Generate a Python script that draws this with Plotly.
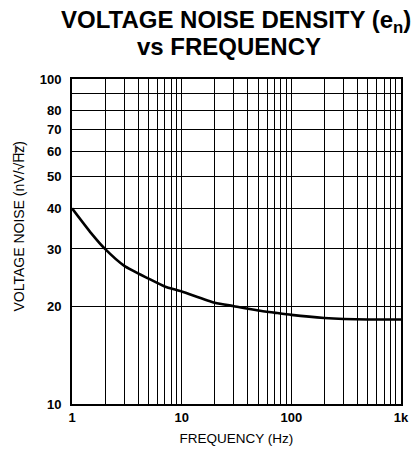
import plotly.graph_objects as go

# Data
freq_hz = [1, 1.5, 2, 3, 5, 7, 10, 20, 30, 50, 70, 100, 200, 500, 1000]
noise_nv = [40, 33.5, 30, 26.6, 24.3, 23.0, 22.2, 20.5, 20.0, 19.4, 19.1, 18.8, 18.4, 18.2, 18.2]

x_tick_vals = [1, 10, 100, 1000]
x_tick_text = ["1", "10", "100", "1k"]
x_minor_vals = [2, 3, 4, 5, 6, 7, 8, 9, 20, 30, 40, 50, 60, 70, 80, 90,
                200, 300, 400, 500, 600, 700, 800, 900]
y_tick_vals = [10, 20, 30, 40, 50, 60, 70, 80, 100]
y_tick_text = ["10", "20", "30", "40", "50", "60", "70", "80", "100"]
y_minor_vals = [90]

FONT = "Liberation Sans, Arial, sans-serif"
W, H = 412, 450
ML, MR, MT, MB = 72, 11, 79, 46
PLOT_H = H - MT - MB
PLOT_TOP = 1 + MT / PLOT_H  # top of figure in paper units

fig = go.Figure()
fig.add_trace(go.Scatter(
    x=freq_hz, y=noise_nv, mode="lines",
    line=dict(color="black", width=2.6, shape="spline", smoothing=0.6),
    showlegend=False, hoverinfo="skip",
))

fig.update_layout(
    width=W, height=H,
    margin=dict(l=ML, r=MR, t=MT, b=MB),
    paper_bgcolor="white", plot_bgcolor="white",
    font=dict(family=FONT, color="black"),
    xaxis=dict(
        type="log", range=[0, 3],
        tickvals=x_tick_vals, ticktext=x_tick_text,
        showgrid=True, gridcolor="black", gridwidth=1,
        minor=dict(tickvals=x_minor_vals, showgrid=True, gridcolor="black", gridwidth=1),
        showline=True, linecolor="black", linewidth=2, mirror=True,
        ticks="", tickfont=dict(size=13, family=FONT, color="black", weight="bold"),
        ticklabeloverflow="allow",
        zeroline=False, automargin=False,
        title=dict(text="FREQUENCY (Hz)", font=dict(size=13.5, family=FONT, color="black"), standoff=10),
    ),
    yaxis=dict(
        type="log", range=[1, 2],
        tickvals=y_tick_vals, ticktext=y_tick_text,
        showgrid=True, gridcolor="black", gridwidth=1,
        minor=dict(tickvals=y_minor_vals, showgrid=True, gridcolor="black", gridwidth=1),
        showline=True, linecolor="black", linewidth=2, mirror=True,
        ticks="", ticklabelstandoff=6, automargin=False,
        tickfont=dict(size=13, family=FONT, color="black", weight="bold"),
        zeroline=False,
    ),
    annotations=[
        dict(text="VOLTAGE NOISE DENSITY (e<sub>n</sub>)", xref="paper", yref="paper",
             x=0.47, xshift=9, y=PLOT_TOP, yshift=-4, yanchor="top", showarrow=False,
             font=dict(size=24, family=FONT, color="black", weight="bold")),
        dict(text="vs FREQUENCY", xref="paper", yref="paper",
             x=0.47, xshift=2, y=PLOT_TOP, yshift=-31, yanchor="top", showarrow=False,
             font=dict(size=24, family=FONT, color="black", weight="bold")),
        dict(text="VOLTAGE NOISE (nV/√H\u0305z\u0305)", xref="paper", yref="paper",
             x=0, xshift=-63, y=0.546, textangle=-90, showarrow=False,
             font=dict(size=14, family=FONT, color="black")),
    ],
)

fig.write_html(
    "out.html",
    config={"displayModeBar": False},
    post_script="document.body.style.margin='0';document.body.style.overflow='hidden';",
)
